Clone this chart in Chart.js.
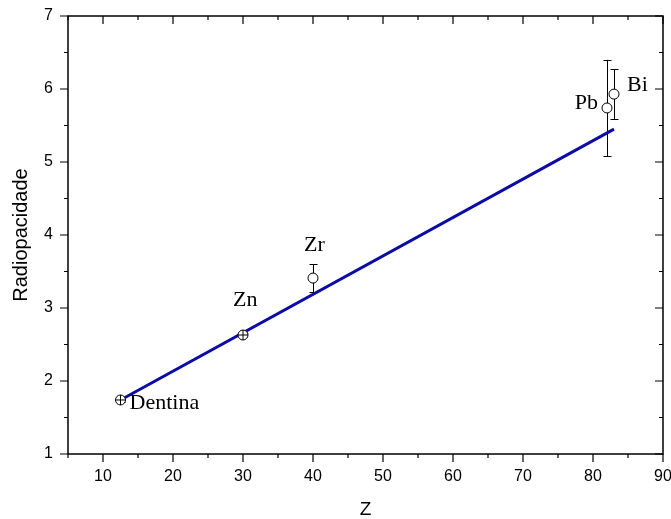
<!DOCTYPE html>
<html>
<head>
<meta charset="utf-8">
<script src="https://cdn.jsdelivr.net/npm/chart.js@4.4.1/dist/chart.umd.min.js"></script>
<style>
  html, body { margin: 0; padding: 0; background: #fff; }
</style>
</head>
<body>
<canvas id="radioChart" width="671" height="519"></canvas>
<script>
// Data
const materials = ['Dentina', 'Zn', 'Zr', 'Pb', 'Bi'];
const atomicNumber = [12.5, 30, 40, 82, 83];
const radiopacity = [1.74, 2.63, 3.41, 5.74, 5.93];
const radiopacityErr = [0.03, 0.03, 0.19, 0.66, 0.34];
const crossedMarker = [true, true, false, false, false];

// Linear fit, drawn between its two end points
const fitZ = [12.5, 83];
const fitRadiopacity = [1.74, 5.45];

// Tick labels
const zTicks = [10, 20, 30, 40, 50, 60, 70, 80, 90];
const radioTicks = [1, 2, 3, 4, 5, 6, 7];

// Label placement relative to each point (pixels), and alignment
const labelOffsets = [[9, 9, 'left'], [-10, -29, 'left'], [-9, -27, 'left'], [-9, 1, 'right'], [13, -3, 'left']];

const AXIS_FONT = 'Liberation Sans, Arial, sans-serif';
const LABEL_FONT = 'Liberation Serif, Times New Roman, serif';

// Error bars under the markers
const errorBars = {
    id: 'errorBars',
    beforeDatasetsDraw(chart) {
        const { ctx, scales: { x, y } } = chart;
        ctx.save();
        ctx.strokeStyle = '#000';
        ctx.lineWidth = 1;
        atomicNumber.forEach((z, i) => {
            const px = Math.round(x.getPixelForValue(z)) + 0.5;
            const top = y.getPixelForValue(radiopacity[i] + radiopacityErr[i]);
            const bottom = y.getPixelForValue(radiopacity[i] - radiopacityErr[i]);
            ctx.beginPath();
            ctx.moveTo(px, top);
            ctx.lineTo(px, bottom);
            ctx.moveTo(px - 4, Math.round(top) + 0.5);
            ctx.lineTo(px + 4, Math.round(top) + 0.5);
            ctx.moveTo(px - 4, Math.round(bottom) + 0.5);
            ctx.lineTo(px + 4, Math.round(bottom) + 0.5);
            ctx.stroke();
        });
        ctx.restore();
    }
};

// Crosses inside some markers and the text labels
const pointDecor = {
    id: 'pointDecor',
    afterDatasetsDraw(chart) {
        const { ctx } = chart;
        const meta = chart.getDatasetMeta(1);
        ctx.save();
        ctx.strokeStyle = '#000';
        ctx.lineWidth = 1;
        meta.data.forEach((pt, i) => {
            if (!crossedMarker[i]) return;
            ctx.beginPath();
            ctx.moveTo(pt.x - 5, pt.y);
            ctx.lineTo(pt.x + 5, pt.y);
            ctx.moveTo(pt.x, pt.y - 5);
            ctx.lineTo(pt.x, pt.y + 5);
            ctx.stroke();
        });
        ctx.fillStyle = '#000';
        ctx.font = '22px ' + LABEL_FONT;
        ctx.textBaseline = 'alphabetic';
        meta.data.forEach((pt, i) => {
            const [dx, dy, align] = labelOffsets[i];
            ctx.textAlign = align;
            ctx.fillText(materials[i], pt.x + dx, pt.y + dy);
        });
        ctx.restore();
    }
};

// Origin style frame with major / minor ticks
const frame = {
    id: 'frame',
    afterDraw(chart) {
        const { ctx, chartArea: a, scales: { x, y } } = chart;
        ctx.save();
        ctx.strokeStyle = '#000';
        ctx.lineWidth = 1.5;
        ctx.strokeRect(a.left, a.top, a.right - a.left, a.bottom - a.top);
        ctx.lineWidth = 1.2;
        ctx.beginPath();
        zTicks.forEach(v => {
            const px = x.getPixelForValue(v);
            ctx.moveTo(px, a.bottom); ctx.lineTo(px, a.bottom + 8);
            ctx.moveTo(px, a.top); ctx.lineTo(px, a.top + 8);
            const mx = x.getPixelForValue(v - 5);
            ctx.moveTo(mx, a.bottom); ctx.lineTo(mx, a.bottom + 4);
            ctx.moveTo(mx, a.top); ctx.lineTo(mx, a.top + 4);
        });
        radioTicks.forEach((v, i) => {
            const py = y.getPixelForValue(v);
            ctx.moveTo(a.left, py); ctx.lineTo(a.left - 8, py);
            ctx.moveTo(a.right, py); ctx.lineTo(a.right - 8, py);
            if (i > 0) {
                const my = y.getPixelForValue(v - 0.5);
                ctx.moveTo(a.left, my); ctx.lineTo(a.left - 4, my);
                ctx.moveTo(a.right, my); ctx.lineTo(a.right - 4, my);
            }
        });
        ctx.stroke();
        ctx.restore();
    }
};

const ctx = document.getElementById('radioChart').getContext('2d');
new Chart(ctx, {
    type: 'scatter',
    data: {
        datasets: [{
            type: 'line',
            data: fitZ.map((z, i) => ({ x: z, y: fitRadiopacity[i] })),
            borderColor: '#0b0ba5',
            borderWidth: 3,
            pointRadius: 0,
            fill: false,
            order: 2
        }, {
            data: atomicNumber.map((z, i) => ({ x: z, y: radiopacity[i] })),
            pointRadius: 5,
            pointBorderColor: '#000',
            pointBackgroundColor: '#fff',
            pointBorderWidth: 1,
            order: 1
        }]
    },
    options: {
        responsive: false,
        animation: false,
        layout: { padding: { top: 16, right: 8, left: 0, bottom: 0 } },
        plugins: {
            legend: { display: false },
            tooltip: { enabled: false }
        },
        scales: {
            x: {
                type: 'linear',
                min: 5,
                max: 90,
                grid: { display: false, drawTicks: false },
                border: { display: false },
                afterBuildTicks: s => { s.ticks = zTicks.map(v => ({ value: v })); },
                afterFit: s => { s.height = 65; s.paddingLeft = 0; s.paddingRight = 0; },
                ticks: {
                    autoSkip: false,
                    maxRotation: 0,
                    padding: 13,
                    color: '#000',
                    font: { family: AXIS_FONT, size: 16 }
                },
                title: {
                    display: true,
                    text: 'Z',
                    color: '#000',
                    padding: { top: 0, bottom: 0 },
                    font: { family: AXIS_FONT, size: 19, lineHeight: 1 }
                }
            },
            y: {
                type: 'linear',
                min: 1,
                max: 7,
                grid: { display: false, drawTicks: false },
                border: { display: false },
                afterBuildTicks: s => { s.ticks = radioTicks.map(v => ({ value: v })); },
                afterFit: s => { s.width = 68; s.paddingTop = 0; s.paddingBottom = 0; },
                ticks: {
                    autoSkip: false,
                    padding: 15,
                    color: '#000',
                    font: { family: AXIS_FONT, size: 16 }
                },
                title: {
                    display: true,
                    text: 'Radiopacidade',
                    color: '#000',
                    padding: { top: 11, bottom: 0 },
                    font: { family: AXIS_FONT, size: 20, lineHeight: 1 }
                }
            }
        }
    },
    plugins: [errorBars, pointDecor, frame]
});
</script>
</body>
</html>
